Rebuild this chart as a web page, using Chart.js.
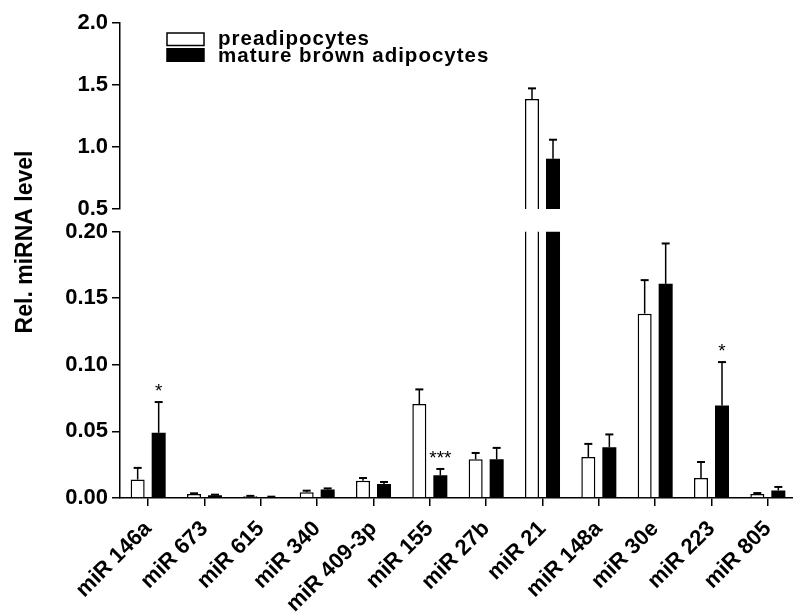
<!DOCTYPE html>
<html>
<head>
<meta charset="utf-8">
<script src="https://cdn.jsdelivr.net/npm/chart.js@4"></script>
<style>
  html, body { margin: 0; padding: 0; background: #fff; overflow: hidden; }
  #wrap { width: 800px; height: 614px; }
</style>
</head>
<body>
<div id="wrap"><canvas id="chart" width="800" height="614"></canvas></div>
<script>
// ===== DATA =====
const categories = ['miR 146a', 'miR 673', 'miR 615', 'miR 340', 'miR 409-3p', 'miR 155',
	'miR 27b', 'miR 21', 'miR 148a', 'miR 30e', 'miR 223', 'miR 805'];
const seriesNames = ['preadipocytes', 'mature brown adipocytes'];

const preValues    = [0.0138, 0.0030, 0.0013, 0.0043, 0.0130, 0.0705, 0.0290, 1.387, 0.0308, 0.1383, 0.0150, 0.0030];
const preErrors    = [0.0088, 0.0005, 0.0003, 0.0012, 0.0020, 0.0110, 0.0048, 0.086, 0.0098, 0.0252, 0.0120, 0.0007];
const matureValues = [0.0489, 0.0020, 0.0008, 0.0063, 0.0105, 0.0171, 0.0290, 0.906, 0.0381, 0.1607, 0.0695, 0.0056];
const matureErrors = [0.0231, 0.0005, 0.0002, 0.0009, 0.0015, 0.0047, 0.0086, 0.153, 0.0096, 0.0303, 0.0325, 0.0027];
const matureStars  = ['*', '', '', '', '', '***', '', '', '', '', '*', ''];

const lowTicks  = [0, 0.05, 0.10, 0.15, 0.20];
const highTicks = [0.5, 1.0, 1.5, 2.0];

// ===== SETUP =====
const FONT = "'Liberation Sans', Arial, sans-serif";
Chart.defaults.font.family = FONT;
Chart.defaults.color = '#000';

const lowMax = lowTicks[lowTicks.length - 1];
const highMin = highTicks[0];

// part of a bar that shows above the axis break
function highPart(values) {
	return values.map(v => v > highMin ? [highMin, v] : null);
}

// keep each bar inside its own axis segment
const clipToAxis = {
	id: 'clipToAxis',
	beforeDatasetDraw(chart, args) {
		const s = chart.scales[args.meta.yAxisID];
		const a = chart.chartArea;
		const ctx = chart.ctx;
		ctx.save();
		ctx.beginPath();
		ctx.rect(a.left, s.top, a.right - a.left, s.bottom - s.top + 2);
		ctx.clip();
	},
	afterDatasetDraw(chart) {
		chart.ctx.restore();
	}
};

const errorBars = {
	id: 'errorBars',
	afterDatasetsDraw(chart) {
		const ctx = chart.ctx;
		const low = chart.scales.yLow, high = chart.scales.yHigh;
		const groups = [[0, preValues, preErrors, null], [1, matureValues, matureErrors, matureStars]];
		ctx.save();
		ctx.strokeStyle = '#000';
		ctx.fillStyle = '#000';
		groups.forEach(([idx, vals, errs, stars]) => {
			const meta = chart.getDatasetMeta(idx);
			vals.forEach((v, i) => {
				const s = v > highMin ? high : low;
				const x = meta.data[i].x;
				const y0 = s.getPixelForValue(v);
				const y1 = s.getPixelForValue(v + errs[i]);
				ctx.lineWidth = 1.5;
				ctx.beginPath();
				ctx.moveTo(x, y0);
				ctx.lineTo(x, y1);
				ctx.stroke();
				ctx.lineWidth = 2;
				ctx.beginPath();
				ctx.moveTo(x - 4, y1);
				ctx.lineTo(x + 4, y1);
				ctx.stroke();
				if (stars && stars[i]) {
					ctx.font = `19px ${FONT}`;
					ctx.textAlign = 'center';
					ctx.textBaseline = 'alphabetic';
					ctx.fillText(stars[i], x, y1 - 5);
				}
			});
		});
		ctx.restore();
	}
};

const boxLegend = {
	id: 'boxLegend',
	afterDraw(chart) {
		const {ctx, chartArea} = chart;
		const x = chartArea.left + 47, y = chartArea.top + 10;
		ctx.save();
		ctx.fillStyle = '#fff';
		ctx.strokeStyle = '#000';
		ctx.lineWidth = 1.5;
		ctx.fillRect(x, y, 37, 12.5);
		ctx.strokeRect(x, y, 37, 12.5);
		ctx.fillStyle = '#000';
		ctx.fillRect(x - 0.75, y + 15, 38.5, 14);
		ctx.font = `bold 20.5px ${FONT}`;
		ctx.letterSpacing = '1px';
		ctx.textAlign = 'left';
		ctx.textBaseline = 'alphabetic';
		ctx.fillText(chart.data.datasets[0].label, x + 51, y + 12);
		ctx.fillText(chart.data.datasets[1].label, x + 51, y + 29);
		ctx.restore();
	}
};

const yTitle = {
	id: 'yTitle',
	afterDraw(chart) {
		const {ctx, chartArea} = chart;
		ctx.save();
		ctx.translate(chartArea.left - 88.5, chartArea.top + 219);
		ctx.rotate(-Math.PI / 2);
		ctx.font = `bold 23px ${FONT}`;
		ctx.fillStyle = '#000';
		ctx.textAlign = 'center';
		ctx.textBaseline = 'alphabetic';
		ctx.fillText('Rel. miRNA level', 0, 0);
		ctx.restore();
	}
};

const tickFont = {size: 22, weight: 'bold'};
const axisGrid = {drawOnChartArea: false, drawTicks: true, tickLength: 8, color: '#000', lineWidth: 1.5};
const axisBorder = {display: true, color: '#000', width: 1.5};

new Chart(document.getElementById('chart'), {
	type: 'bar',
	data: {
		labels: categories,
		datasets: [
			{label: seriesNames[0], data: preValues, yAxisID: 'yLow', stack: 'pre',
				backgroundColor: '#fff', borderColor: '#000', borderWidth: 1.5},
			{label: seriesNames[1], data: matureValues, yAxisID: 'yLow', stack: 'mature',
				backgroundColor: '#000', borderColor: '#000', borderWidth: 0},
			{label: seriesNames[0], data: highPart(preValues), yAxisID: 'yHigh', stack: 'pre',
				backgroundColor: '#fff', borderColor: '#000', borderWidth: 1.5},
			{label: seriesNames[1], data: highPart(matureValues), yAxisID: 'yHigh', stack: 'mature',
				backgroundColor: '#000', borderColor: '#000', borderWidth: 0}
		]
	},
	options: {
		responsive: false,
		animation: false,
		datasets: {
			bar: {categoryPercentage: 0.746, barPercentage: 0.667}
		},
		layout: {padding: {top: 23, right: 4, left: 0, bottom: 0}},
		plugins: {
			legend: {display: false},
			tooltip: {enabled: false}
		},
		scales: {
			x: {
				type: 'category',
				offset: true,
				grid: Object.assign({offset: false}, axisGrid),
				border: axisBorder,
				ticks: {font: tickFont, color: '#000', minRotation: 45, maxRotation: 45, autoSkip: false, padding: 10},
				afterFit: s => { s.height = 116; }
			},
			yLow: {
				type: 'linear', position: 'left', stack: 'value', stackWeight: 266.4, stacked: false,
				min: 0, max: lowMax,
				afterBuildTicks: s => { s.ticks = lowTicks.map(v => ({value: v})); },
				ticks: {font: tickFont, color: '#000', padding: 4, callback: v => v.toFixed(2)},
				grid: axisGrid,
				border: axisBorder,
				afterFit: s => { s.width = 120; }
			},
			yGap: {
				type: 'linear', position: 'left', stack: 'value', stackWeight: 22.4,
				min: 0, max: 1,
				ticks: {display: false},
				grid: {display: false},
				border: {display: false},
				afterFit: s => { s.width = 120; }
			},
			yHigh: {
				type: 'linear', position: 'left', stack: 'value', stackWeight: 186, stacked: false,
				min: highMin, max: highTicks[highTicks.length - 1],
				afterBuildTicks: s => { s.ticks = highTicks.map(v => ({value: v})); },
				ticks: {font: tickFont, color: '#000', padding: 4, callback: v => v.toFixed(1)},
				grid: axisGrid,
				border: axisBorder,
				afterFit: s => { s.width = 120; }
			}
		}
	},
	plugins: [clipToAxis, errorBars, boxLegend, yTitle]
});
</script>
</body>
</html>
